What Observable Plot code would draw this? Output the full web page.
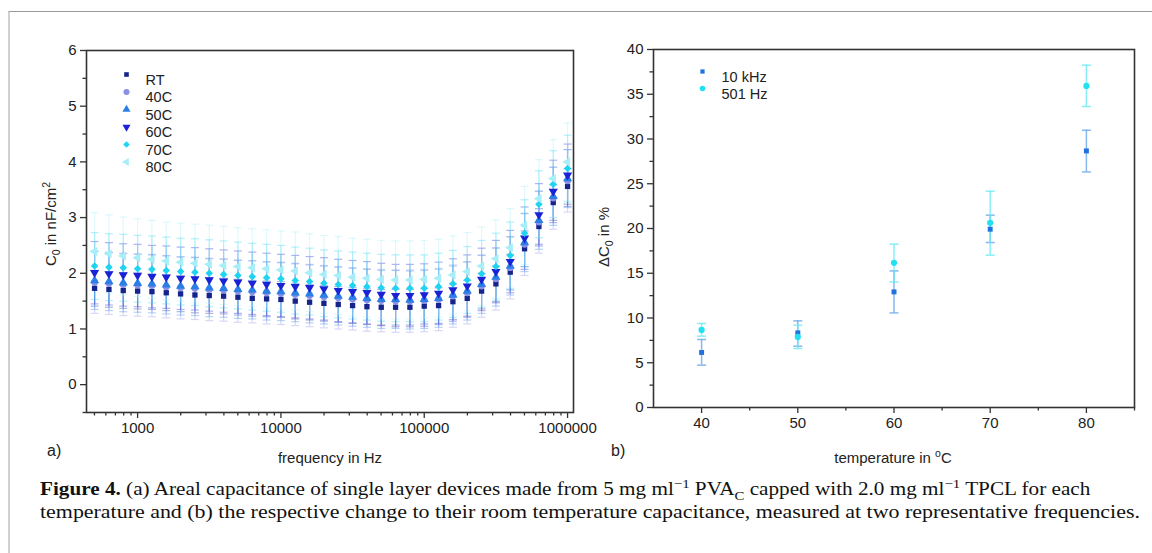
<!DOCTYPE html>
<html><head><meta charset="utf-8">
<script src="https://cdn.jsdelivr.net/npm/d3@7"></script>
<script src="https://cdn.jsdelivr.net/npm/@observablehq/plot@0.6"></script>
<style>
body{margin:0;background:#fff;}
#fig{position:relative;width:1152px;height:553px;overflow:hidden;font-family:"Liberation Sans",Arial,sans-serif;color:#222;}
#frame{position:absolute;left:8px;top:11px;width:1144px;height:560px;border-top:1px solid #9a9a9a;border-left:2px solid #d0d0d0;}
.panel{position:absolute;top:0;}
.lbl{position:absolute;font-size:15px;white-space:nowrap;transform:translate(-50%,-50%);}
.rot{transform:translate(-50%,-50%) rotate(-90deg);}
.tag{position:absolute;font-size:16px;transform:translate(0,-50%);}
#caption{position:absolute;left:40px;top:478px;font-family:"Liberation Serif","DejaVu Serif",serif;font-size:18px;line-height:23px;color:#111;white-space:nowrap;}
#caption .ln{display:block;width:max-content;transform-origin:0 0;}
sub,sup{font-size:70%;line-height:0;}
</style></head>
<body>
<div id="fig">
  <div id="frame"></div>
  <div id="left" class="panel" style="left:0"></div>
  <div id="right" class="panel" style="left:590px"></div>
  <div class="lbl rot" style="left:50px;top:224px">C<sub>0</sub> in nF/cm<sup>2</sup></div>
  <div class="lbl" style="left:330px;top:457px">frequency in Hz</div>
  <div class="tag" style="left:47px;top:451px">a)</div>
  <div class="lbl rot" style="left:603px;top:237px">ΔC<sub>0</sub> in %</div>
  <div class="lbl" style="left:893px;top:457px">temperature in <sup>o</sup>C</div>
  <div class="tag" style="left:611px;top:451px">b)</div>
  <div id="caption"><span class="ln" data-w="1050"><b>Figure 4.</b> (a) Areal capacitance of single layer devices made from 5 mg ml<sup>−1</sup> PVA<sub>C</sub> capped with 2.0 mg ml<sup>−1</sup> TPCL for each</span><span class="ln" data-w="1100">temperature and (b) the respective change to their room temperature capacitance, measured at two representative frequencies.</span></div>
</div>
<script>
// ---------- Panel (a) data ----------
const freqs = [501, 631, 794, 1000, 1259, 1585, 1995, 2512, 3162, 3981, 5012, 6310, 7943, 10000, 12589, 15849, 19953, 25119, 31623, 39811, 50119, 63096, 79433, 100000, 125893, 158489, 199526, 251189, 316228, 398107, 501187, 630957, 794328, 1000000];
const seriesNames = ["RT", "40C", "50C", "60C", "70C", "80C"];
const cRT  = [1.73,1.71,1.69,1.68,1.67,1.65,1.63,1.61,1.60,1.59,1.57,1.55,1.54,1.53,1.50,1.48,1.46,1.44,1.42,1.40,1.39,1.39,1.39,1.41,1.42,1.49,1.55,1.68,1.81,2.02,2.44,2.84,3.27,3.56];
const c40C = [1.84,1.82,1.80,1.79,1.78,1.76,1.74,1.73,1.71,1.70,1.68,1.67,1.65,1.64,1.62,1.60,1.58,1.56,1.54,1.52,1.51,1.50,1.50,1.51,1.53,1.59,1.65,1.77,1.90,2.10,2.52,2.92,3.35,3.66];
const c50C = [1.87,1.85,1.83,1.82,1.81,1.79,1.77,1.76,1.74,1.73,1.71,1.70,1.68,1.67,1.65,1.63,1.61,1.59,1.57,1.55,1.53,1.53,1.52,1.53,1.55,1.61,1.68,1.80,1.93,2.13,2.55,2.95,3.38,3.70];
const c60C = [2.01,1.99,1.97,1.96,1.94,1.93,1.91,1.90,1.88,1.86,1.84,1.82,1.80,1.78,1.76,1.74,1.72,1.69,1.67,1.65,1.62,1.60,1.60,1.61,1.64,1.70,1.77,1.89,2.03,2.21,2.63,3.05,3.47,3.76];
const c70C = [2.13,2.11,2.10,2.08,2.07,2.05,2.03,2.02,2.00,1.98,1.96,1.94,1.92,1.90,1.87,1.85,1.82,1.80,1.78,1.76,1.74,1.73,1.73,1.73,1.76,1.81,1.88,1.99,2.12,2.32,2.72,3.24,3.60,3.88];
const c80C = [2.39,2.35,2.31,2.28,2.25,2.22,2.20,2.18,2.16,2.14,2.12,2.10,2.08,2.06,2.04,2.01,1.98,1.96,1.93,1.91,1.89,1.88,1.88,1.89,1.91,1.97,2.03,2.13,2.26,2.46,2.86,3.34,3.70,4.00];
const seriesErr = [0.32, 0.56, 0.52, 0.56, 0.60, 0.70];
const freqMajor = [1000, 10000, 100000, 1000000];
const freqMinor = [500,600,700,800,900,2000,3000,4000,5000,6000,7000,8000,9000,20000,30000,40000,50000,60000,70000,80000,90000,200000,300000,400000,500000,600000,700000,800000,900000];
const cMajor = [0, 1, 2, 3, 4, 5, 6];
const cMinor = [-0.5, 0.5, 1.5, 2.5, 3.5, 4.5, 5.5];

// ---------- Panel (b) data ----------
const temps = [40, 50, 60, 70, 80];
const seriesB = ["10 kHz", "501 Hz"];
const d10k   = [6.15, 8.34, 12.92, 19.92, 28.67];
const d10kLo = [4.73, 6.85, 10.57, 18.43, 26.32];
const d10kHi = [7.60, 9.68, 15.26, 21.49, 30.98];
const d501   = [8.67, 7.89, 16.16, 20.63, 35.93];
const d501Lo = [7.97, 6.59, 14.03, 17.02, 33.63];
const d501Hi = [9.39, 9.20, 18.25, 24.17, 38.25];
const tMajor = [40, 50, 60, 70, 80];
const tMinor = [45, 55, 65, 75, 85];
const dMajor = [0, 5, 10, 15, 20, 25, 30, 35, 40];
const dMinor = [2.5, 7.5, 12.5, 17.5, 22.5, 27.5, 32.5, 37.5];

// ---------- styles ----------
const colA    = ["#16238a", "#8a8fe6", "#2a7fe6", "#1a22d6", "#1fd4f0", "#a8eef8"];
const errColA = ["#3848b0", "#9a9ee8", "#4a90e8", "#3a42dc", "#40daf2", "#b0f0f8"];
const symA    = ["square", "circle", "triangle", "triangle", "diamond2", "triangle"];
const rotA    = [0, 0, 0, 180, 0, -90];
const colB    = ["#1f72e0", "#22e0f0"];
const errColB = ["#6aa6ea", "#6aeaf2"];
const tickFont = 15;

const capSymbol = {draw(ctx, size) { const r = Math.sqrt(size / Math.PI); ctx.moveTo(-r, 0); ctx.lineTo(r, 0); }};
const vals = [cRT, c40C, c50C, c60C, c70C, c80C];
const rowsA = seriesNames.map((s, i) => freqs.map((f, j) => ({s, f, c: vals[i][j], e: seriesErr[i]})));

const fontStyle = {fontFamily: "'Liberation Sans', Arial, sans-serif", fontSize: "15px", color: "#222", background: "none", overflow: "visible"};

const errMarksA = rowsA.flatMap((rows, i) => [
  Plot.ruleX(rows, {x: "f", y1: d => d.c - d.e, y2: d => d.c + d.e, stroke: errColA[i], strokeOpacity: 0.4, strokeWidth: 1.2}),
  Plot.dot(rows, {x: "f", y: d => d.c + d.e, symbol: capSymbol, r: 4, fill: "none", stroke: errColA[i], strokeOpacity: 0.4, strokeWidth: 1.2}),
  Plot.dot(rows, {x: "f", y: d => d.c - d.e, symbol: capSymbol, r: 4, fill: "none", stroke: errColA[i], strokeOpacity: 0.4, strokeWidth: 1.2})
]);
const dotMarksA = rowsA.map((rows, i) =>
  Plot.dot(rows, {x: "f", y: "c", symbol: symA[i], rotate: rotA[i], r: i === 0 ? 3 : 3.4, fill: colA[i], stroke: "none"})
);
const legendA = seriesNames.flatMap((s, i) => [
  Plot.dot([s], {frameAnchor: "top-left", dx: 40, dy: 24 + i * 17.5, symbol: symA[i], rotate: rotA[i], r: i === 0 ? 2.6 : 3, fill: colA[i]}),
  Plot.text([s], {frameAnchor: "top-left", dx: 59, dy: 24 + i * 17.5, text: d => d, textAnchor: "start", fontSize: 14.5, fill: "#222"})
]);
const axisOpts = {label: null, stroke: "#333", strokeWidth: 1.3, fontSize: tickFont, fill: "#222"};

const left = Plot.plot({
  width: 600, height: 470,
  marginLeft: 86, marginRight: 27, marginTop: 50, marginBottom: 58,
  style: fontStyle,
  x: {type: "log", domain: [440, 1.1e6], label: null},
  y: {domain: [-0.5, 6], label: null},
  marks: [
    ...errMarksA,
    ...dotMarksA,
    ...legendA,
    Plot.axisX(freqMajor, {...axisOpts, tickSize: 6, tickPadding: 4, tickFormat: d3.format("d")}),
    Plot.axisX(freqMinor, {...axisOpts, tickSize: 3.5, tickFormat: () => ""}),
    Plot.axisY(cMajor, {...axisOpts, tickSize: 6, tickPadding: 4, tickFormat: d3.format("d")}),
    Plot.axisY(cMinor, {...axisOpts, tickSize: 3.5, tickFormat: () => ""}),
    Plot.frame({stroke: "#333", strokeWidth: 1.6})
  ]
});
document.getElementById("left").append(left);

// ---------- Panel (b) ----------
const rowsB = [
  temps.map((t, j) => ({t, v: d10k[j], lo: d10kLo[j], hi: d10kHi[j]})),
  temps.map((t, j) => ({t, v: d501[j], lo: d501Lo[j], hi: d501Hi[j]}))
];
const symB = ["square", "circle"];
const marksB = rowsB.flatMap((rows, i) => [
  Plot.ruleX(rows, {x: "t", y1: "lo", y2: "hi", stroke: errColB[i], strokeOpacity: 0.8, strokeWidth: 1.5}),
  Plot.dot(rows, {x: "t", y: "hi", symbol: capSymbol, r: 4.5, fill: "none", stroke: errColB[i], strokeOpacity: 0.8, strokeWidth: 1.5}),
  Plot.dot(rows, {x: "t", y: "lo", symbol: capSymbol, r: 4.5, fill: "none", stroke: errColB[i], strokeOpacity: 0.8, strokeWidth: 1.5})
]);
const dotsB = rowsB.map((rows, i) => Plot.dot(rows, {x: "t", y: "v", symbol: symB[i], r: i === 0 ? 2.8 : 3.1, fill: colB[i]}));
const legendB = seriesB.flatMap((s, i) => [
  Plot.dot([s], {frameAnchor: "top-left", dx: 49, dy: 22 + i * 17, symbol: symB[i], r: i === 0 ? 2.4 : 2.8, fill: colB[i]}),
  Plot.text([s], {frameAnchor: "top-left", dx: 68, dy: 22 + i * 17, text: d => d, textAnchor: "start", fontSize: 14.5, fill: "#222"})
]);

const right = Plot.plot({
  width: 560, height: 470,
  marginLeft: 63, marginRight: 16, marginTop: 49, marginBottom: 63,
  style: fontStyle,
  x: {domain: [35, 85], label: null},
  y: {domain: [0, 40], label: null},
  marks: [
    ...marksB,
    ...dotsB,
    ...legendB,
    Plot.axisX(tMajor, {...axisOpts, tickSize: 6, tickPadding: 4, tickFormat: d3.format("d")}),
    Plot.axisX(tMinor, {...axisOpts, tickSize: 3.5, tickFormat: () => ""}),
    Plot.axisY(dMajor, {...axisOpts, tickSize: 6, tickPadding: 4, tickFormat: d3.format("d")}),
    Plot.axisY(dMinor, {...axisOpts, tickSize: 3.5, tickFormat: () => ""}),
    Plot.frame({stroke: "#333", strokeWidth: 1.6})
  ]
});
document.getElementById("right").append(right);

// stretch each caption line horizontally to the reference's line length
document.querySelectorAll("#caption .ln").forEach(el => {
  const w = el.getBoundingClientRect().width;
  el.style.transform = `scaleX(${(+el.dataset.w / w).toFixed(3)})`;
});
</script>
</body></html>
